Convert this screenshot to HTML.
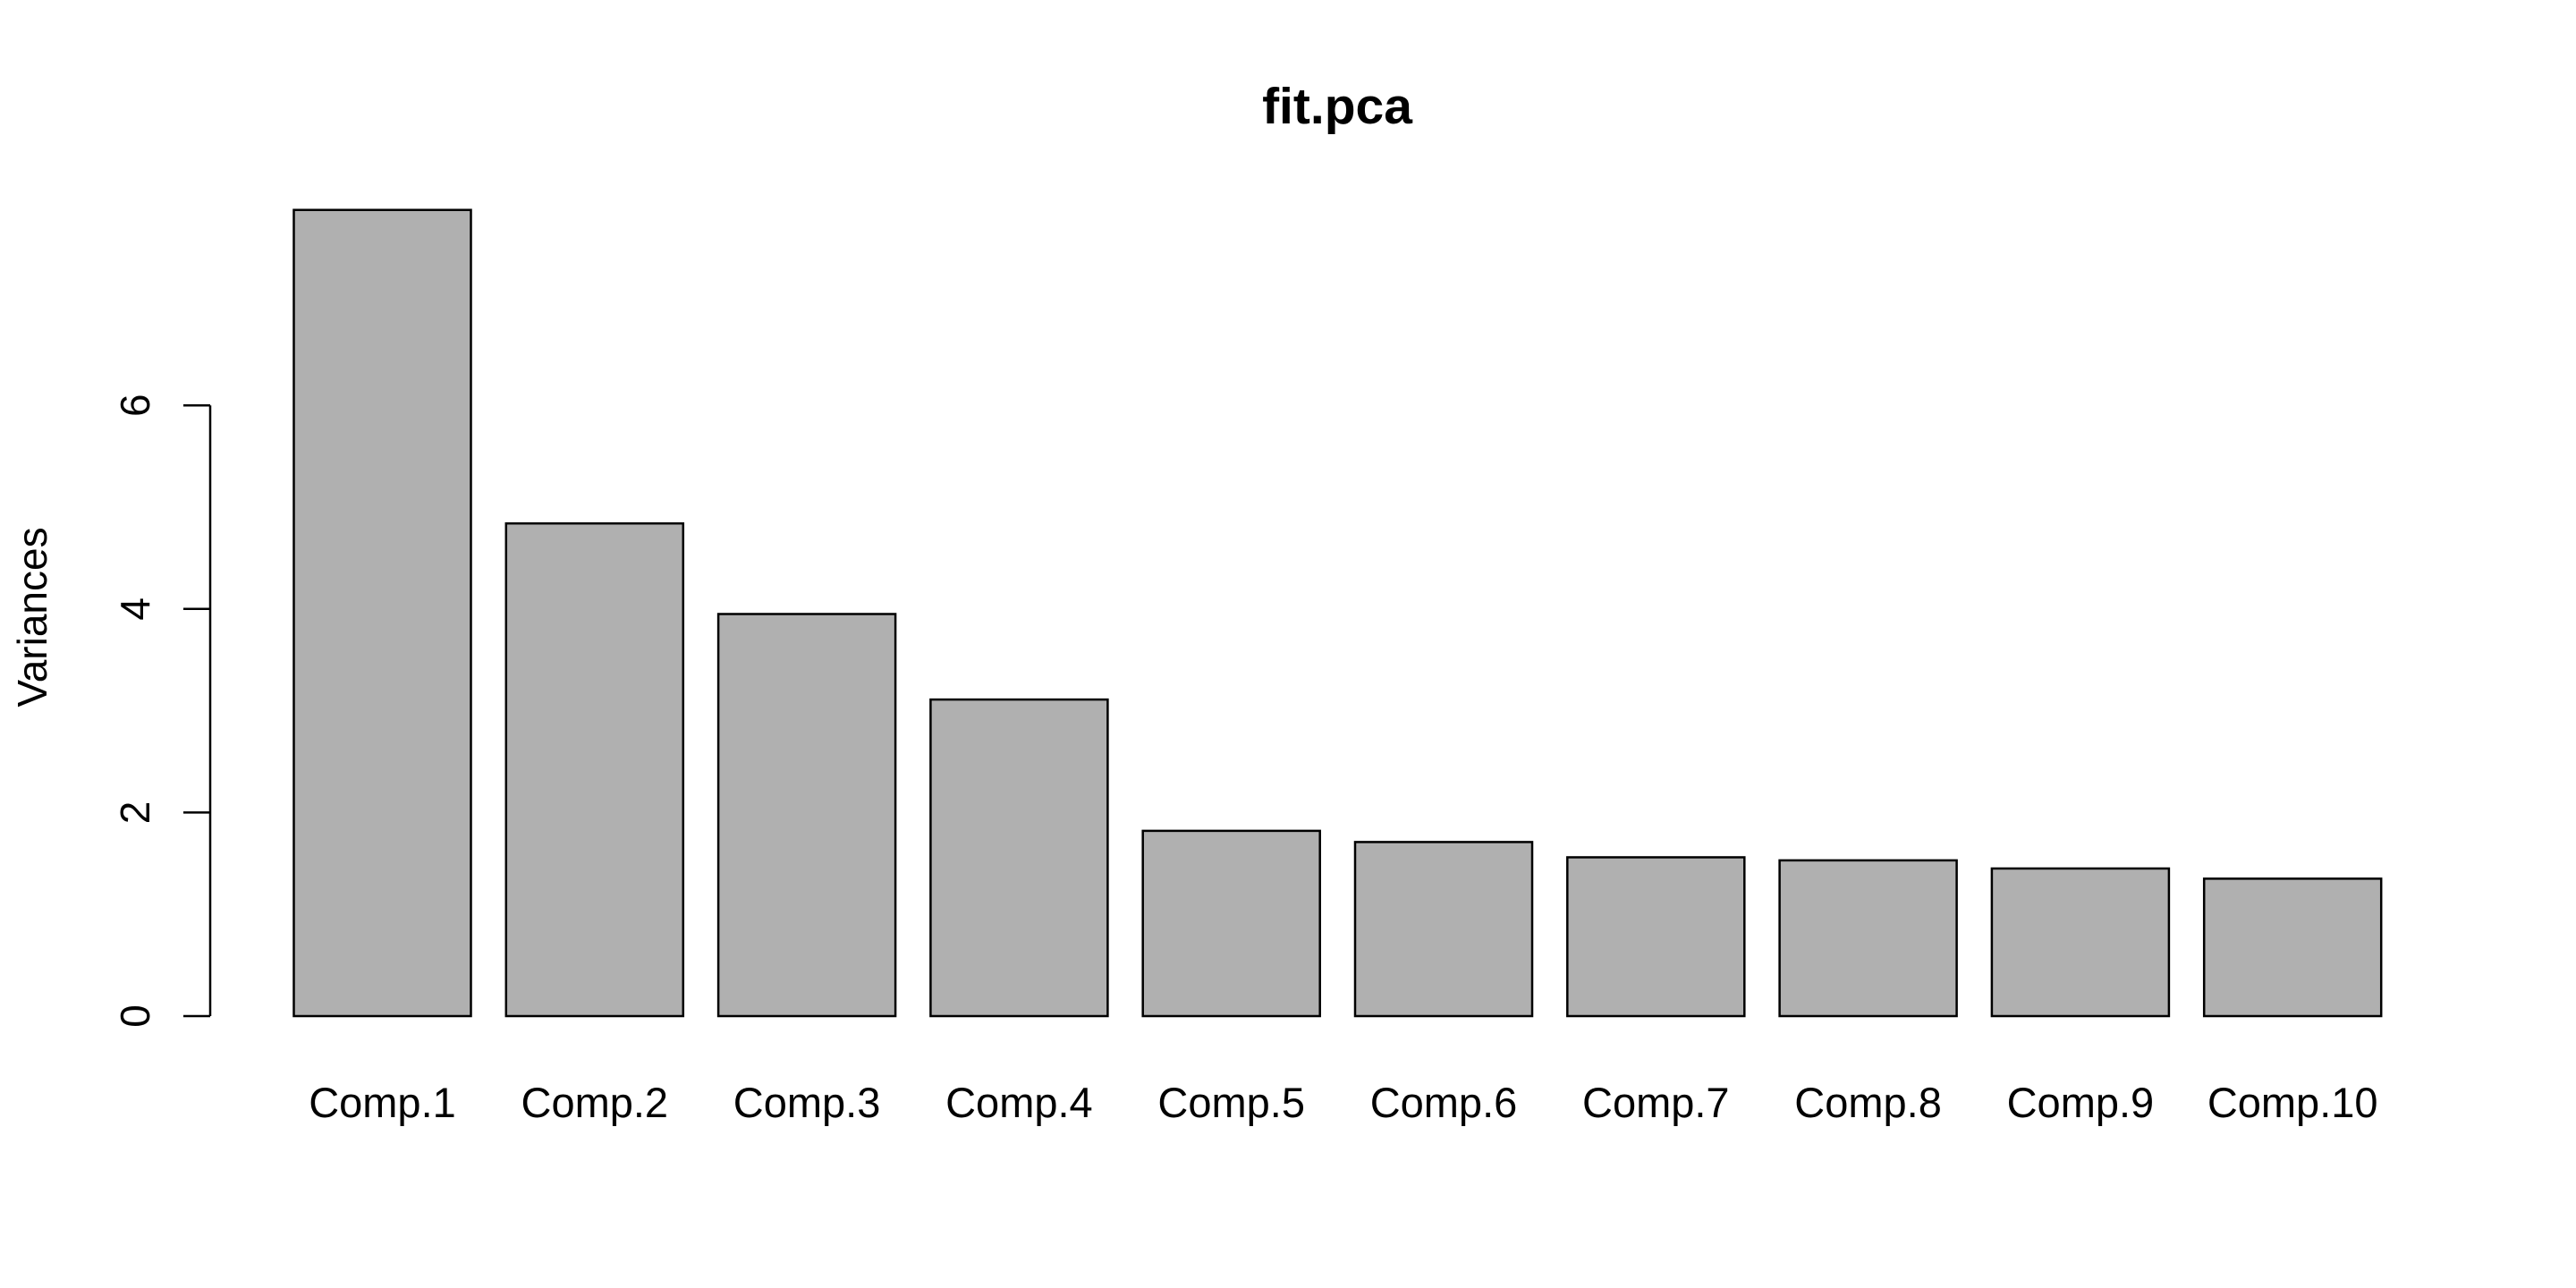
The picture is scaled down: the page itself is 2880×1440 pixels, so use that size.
<!DOCTYPE html>
<html><head><meta charset="utf-8"><style>
html,body{margin:0;padding:0;background:#fff;}
svg{display:block;font-family:"Liberation Sans",Arial,sans-serif;}
</style></head><body>
<svg id="chart" width="2880" height="1440" viewBox="0 0 2880 1440" xmlns="http://www.w3.org/2000/svg">
<rect width="2880" height="1440" fill="#fff"/>
<text x="1495" y="138" font-size="57" font-weight="bold" text-anchor="middle">fit.pca</text>
<text transform="translate(52,690) rotate(-90)" font-size="46" text-anchor="middle">Variances</text>
<g id="axis"></g>
<g id="bars"></g>
<g id="xlabels"></g>
</svg>
<script>
const categories = ["Comp.1","Comp.2","Comp.3","Comp.4","Comp.5","Comp.6","Comp.7","Comp.8","Comp.9","Comp.10"];
const variances = [7.92, 4.84, 3.95, 3.11, 1.82, 1.71, 1.56, 1.53, 1.45, 1.35];
const yTicks = [0, 2, 4, 6];
const yTickLabels = ["0", "2", "4", "6"];

const NS = "http://www.w3.org/2000/svg";
const y0 = 1136, pxPerUnit = 113.8;
function yScale(v){ return y0 - v * pxPerUnit; }
const barStep = 237.3, barW = 198, barLeft0 = 328.5;
function xLeft(i){ return barLeft0 + i * barStep; }

const axis = document.getElementById('axis');
const axX = 235;
const line = document.createElementNS(NS, 'line');


line.setAttribute('x1', axX); line.setAttribute('x2', axX);
line.setAttribute('y1', yScale(yTicks[0])); line.setAttribute('y2', yScale(yTicks[yTicks.length-1]));
line.setAttribute('stroke', '#000'); line.setAttribute('stroke-width', '2.5');
axis.appendChild(line);
yTicks.forEach((t, i) => {
  const tk = document.createElementNS(NS, 'line');
  
  
  tk.setAttribute('x1', axX - 30); tk.setAttribute('x2', axX);
  tk.setAttribute('y1', yScale(t)); tk.setAttribute('y2', yScale(t));
  tk.setAttribute('stroke', '#000'); tk.setAttribute('stroke-width', '2.5');
  axis.appendChild(tk);
  const lb = document.createElementNS(NS, 'text');
  
  
  lb.setAttribute('transform', 'translate(167,' + yScale(t) + ') rotate(-90)');
  lb.setAttribute('font-size', '46');
  lb.setAttribute('text-anchor', 'middle');
  lb.textContent = yTickLabels[i];
  axis.appendChild(lb);
});

const bars = document.getElementById('bars');
const xl = document.getElementById('xlabels');
categories.forEach((c, i) => {
  const r = document.createElementNS(NS, 'rect');
  
  
  r.setAttribute('x', xLeft(i)); r.setAttribute('width', barW);
  r.setAttribute('y', yScale(variances[i])); r.setAttribute('height', y0 - yScale(variances[i]));
  r.setAttribute('fill', '#b0b0b0'); r.setAttribute('stroke', '#000'); r.setAttribute('stroke-width', '2.5');
  bars.appendChild(r);
  const t = document.createElementNS(NS, 'text');
  
  
  t.setAttribute('x', xLeft(i) + barW / 2); t.setAttribute('y', 1249);
  t.setAttribute('font-size', '47'); t.setAttribute('text-anchor', 'middle');
  t.textContent = c;
  xl.appendChild(t);
});
</script>
</body></html>
